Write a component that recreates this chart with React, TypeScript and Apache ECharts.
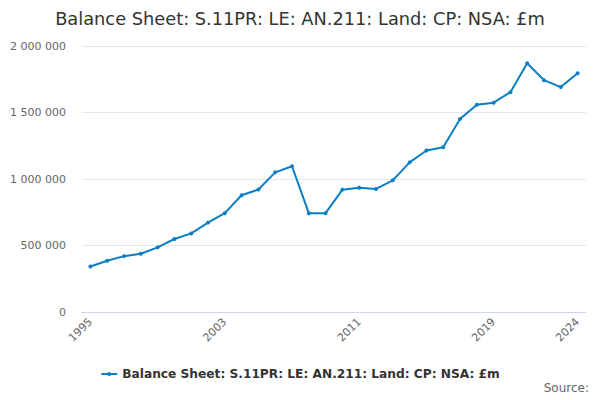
import React, { useEffect, useRef } from "react";
import * as echarts from "echarts";

const years = [
  "1995", "1996", "1997", "1998", "1999", "2000", "2001", "2002", "2003", "2004",
  "2005", "2006", "2007", "2008", "2009", "2010", "2011", "2012", "2013", "2014",
  "2015", "2016", "2017", "2018", "2019", "2020", "2021", "2022", "2023", "2024",
];
const values = [
  342000, 385000, 420000, 438000, 486000, 549000, 591000, 672000, 743000, 878000,
  921000, 1050000, 1096000, 743000, 743000, 920000, 935000, 925000, 990000, 1125000,
  1214000, 1239000, 1451000, 1559000, 1574000, 1653000, 1870000, 1743000, 1691000, 1795000,
];
const yTicks = [0, 500000, 1000000, 1500000, 2000000];
const seriesName = "Balance Sheet: S.11PR: LE: AN.211: Land: CP: NSA: £m";
const titleText = "Balance Sheet: S.11PR: LE: AN.211: Land: CP: NSA: £m";
const sourceText = "Source:";

const FONT = "DejaVu Sans";

function fmt(v: number): string {
  return String(v).replace(/\B(?=(\d{3})+(?!\d))/g, " ");
}

export default function App() {
  const ref = useRef<HTMLDivElement>(null);
  useEffect(() => {
    if (!ref.current) return;
    const chart = echarts.init(ref.current, undefined, { renderer: "svg" });
    const last = years.length - 1;
    chart.setOption({
      animation: false,
      textStyle: { fontFamily: FONT },
      title: [
        {
          text: titleText,
          left: "center",
          top: 4,
          textStyle: { fontFamily: FONT, fontSize: 17.8, fontWeight: "normal", color: "#333333" },
        },
        {
          text: sourceText,
          right: 11,
          top: 382,
          padding: 0,
          textStyle: { fontFamily: FONT, fontSize: 12, fontWeight: "normal", color: "#666666" },
        },
      ],
      legend: {
        data: [seriesName],
        left: "center",
        top: 363,
        itemWidth: 16,
        itemHeight: 5,
        itemGap: 5,
        textStyle: { fontFamily: FONT, fontSize: 12.2, fontWeight: "bold", color: "#333333" },
      },
      grid: { left: 82, right: 14, top: 46, bottom: 88, containLabel: false },
      xAxis: {
        type: "category",
        data: years,
        boundaryGap: true,
        axisLine: { lineStyle: { color: "#ccd6eb" } },
        axisTick: {
          alignWithLabel: true,
          length: 9,
          lineStyle: { color: "#ccd6eb" },
          interval: (i: number) => i % 2 === 0 || i === last,
        },
        axisLabel: {
          rotate: 45,
          color: "#666666",
          fontSize: 11,
          fontFamily: FONT,
          margin: 8,
          interval: (i: number) => i % 8 === 0 || i === last,
        },
      },
      yAxis: {
        type: "value",
        min: 0,
        max: 2000000,
        interval: 500000,
        axisLine: { show: false },
        axisTick: { show: false },
        splitLine: { lineStyle: { color: "#e6e6e6" } },
        axisLabel: {
          color: "#666666",
          fontSize: 11,
          fontFamily: FONT,
          margin: 16,
          formatter: (v: number) => (yTicks.includes(v) ? fmt(v) : ""),
        },
      },
      series: [
        {
          name: seriesName,
          type: "line",
          data: values,
          symbol: "circle",
          symbolSize: 4,
          itemStyle: { color: "#0b7fc4" },
          lineStyle: { color: "#0b7fc4", width: 2 },
        },
      ],
    });
    return () => chart.dispose();
  }, []);
  return <div ref={ref} style={{ width: 600, height: 400, margin: -8 }} />;
}
